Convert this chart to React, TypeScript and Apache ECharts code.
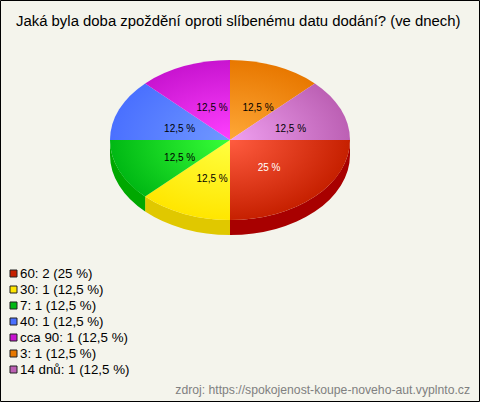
import React, { useEffect, useRef } from "react";
import * as echarts from "echarts";

const categories = ["60", "30", "7", "40", "cca 90", "3", "14 dnů"];
const counts = [2, 1, 1, 1, 1, 1, 1];
const shares = ["25 %", "12,5 %", "12,5 %", "12,5 %", "12,5 %", "12,5 %", "12,5 %"];
const legendSuffix = [": 2 (25 %)", ": 1 (12,5 %)", ": 1 (12,5 %)", ": 1 (12,5 %)", ": 1 (12,5 %)", ": 1 (12,5 %)", ": 1 (12,5 %)"];
const baseColors = ["#c62000", "#ffe600", "#00b814", "#4a70ff", "#c814d0", "#e87800", "#bc60b4"];
const lightColors = ["#ff5c40", "#ffff40", "#38ff38", "#7098ff", "#ff40ff", "#ffa838", "#f0a0f0"];
const sideColors = ["#a80000", "#e0c800", "#00a800", "#3050c0", "#a000a8", "#c06000", "#905088"];
const labelColors = ["#ffffff", "#000000", "#000000", "#000000", "#000000", "#000000", "#000000"];

const FONT = "'Liberation Sans', Arial, sans-serif";
const CX = 230, CY = 140, RX = 120, RY = 80, DEPTH = 15;
const total = counts.reduce((a, b) => a + b, 0);

function sidePath(a0: number, a1: number) {
  const s = Math.max(a0, 0), e = Math.min(a1, Math.PI);
  if (e <= s) return null;
  const x0 = RX * Math.cos(s), y0 = RY * Math.sin(s);
  const x1 = RX * Math.cos(e), y1 = RY * Math.sin(e);
  return `M${x0} ${y0} A${RX} ${RY} 0 0 1 ${x1} ${y1} L${x1} ${y1 + DEPTH} A${RX} ${RY} 0 0 0 ${x0} ${y0 + DEPTH} Z`;
}

export default function App() {
  const ref = useRef<HTMLDivElement>(null);
  useEffect(() => {
    const chart = echarts.init(ref.current!, undefined, { renderer: "svg" });
    let cum = 0;
    const series = categories.map((c, i) => {
      const a0 = (cum / total) * Math.PI * 2;
      cum += counts[i];
      const a1 = (cum / total) * Math.PI * 2;
      return {
        type: "custom",
        name: c + legendSuffix[i],
        coordinateSystem: "none",
        silent: true,
        itemStyle: { color: baseColors[i] },
        data: [[counts[i]]],
        renderItem: () => {
          const mid = (a0 + a1) / 2;
          const f = counts[i] / total > 0.2 ? 0.9 : 1;
          const children: any[] = [];
          const d = sidePath(a0, a1);
          if (d) {
            children.push({
              type: "path",
              x: CX,
              y: CY,
              shape: { pathData: d },
              style: { fill: sideColors[i] },
            });
          }
          children.push({
            type: "sector",
            x: CX,
            y: CY,
            scaleY: RY / RX,
            shape: { cx: 0, cy: 0, r0: 0, r: RX, startAngle: a0, endAngle: a1, clockwise: true },
            style: {
              fill: {
                type: "radial",
                x: 0,
                y: 0,
                r: RX,
                global: true,
                colorStops: [
                  { offset: 0, color: lightColors[i] },
                  { offset: 1, color: baseColors[i] },
                ],
              },
            },
          });
          children.push({
            type: "text",
            z2: 20,
            x: CX - 10.5 + 60 * f * Math.cos(mid),
            y: CY + 3 + 38 * f * Math.sin(mid),
            style: {
              text: shares[i],
              fill: labelColors[i],
              fontSize: 10,
              fontFamily: FONT,
              align: "left",
              verticalAlign: "middle",
            },
          });
          return { type: "group", children };
        },
      };
    });
    chart.setOption({
      animation: false,
      backgroundColor: "#f4f4ec",
      title: {
        text: "Jaká byla doba zpoždění oproti slíbenému datu dodání? (ve dnech)",
        left: 11,
        top: 8,
        textStyle: { fontFamily: FONT, fontSize: 14.9, fontWeight: "normal", color: "#000000" },
      },
      legend: {
        orient: "vertical",
        left: 4.5,
        top: 261,
        itemWidth: 7,
        itemHeight: 7,
        itemGap: 1,
        icon: "rect",
        selectedMode: false,
        itemStyle: { borderColor: "#222222", borderWidth: 1 },
        textStyle: { fontFamily: FONT, fontSize: 13.3, color: "#000000", padding: [0, 0, 0, -2], lineHeight: 15 },
        data: categories.map((c, i) => c + legendSuffix[i]),
      },
      graphic: [
        {
          type: "rect",
          silent: true,
          shape: { x: 0.5, y: 0.5, width: 479, height: 401 },
          style: { fill: "none", stroke: "#000000", lineWidth: 1 },
        },
        {
          type: "text",
          right: 10,
          top: 384,
          style: {
            text: "zdroj: https://spokojenost-koupe-noveho-aut.vyplnto.cz",
            fill: "#808080",
            fontSize: 12.2,
            fontFamily: FONT,
          },
        },
      ],
      series,
    });
    return () => chart.dispose();
  }, []);
  return <div ref={ref} style={{ width: 480, height: 402, position: "absolute", left: 0, top: 0 }} />;
}
